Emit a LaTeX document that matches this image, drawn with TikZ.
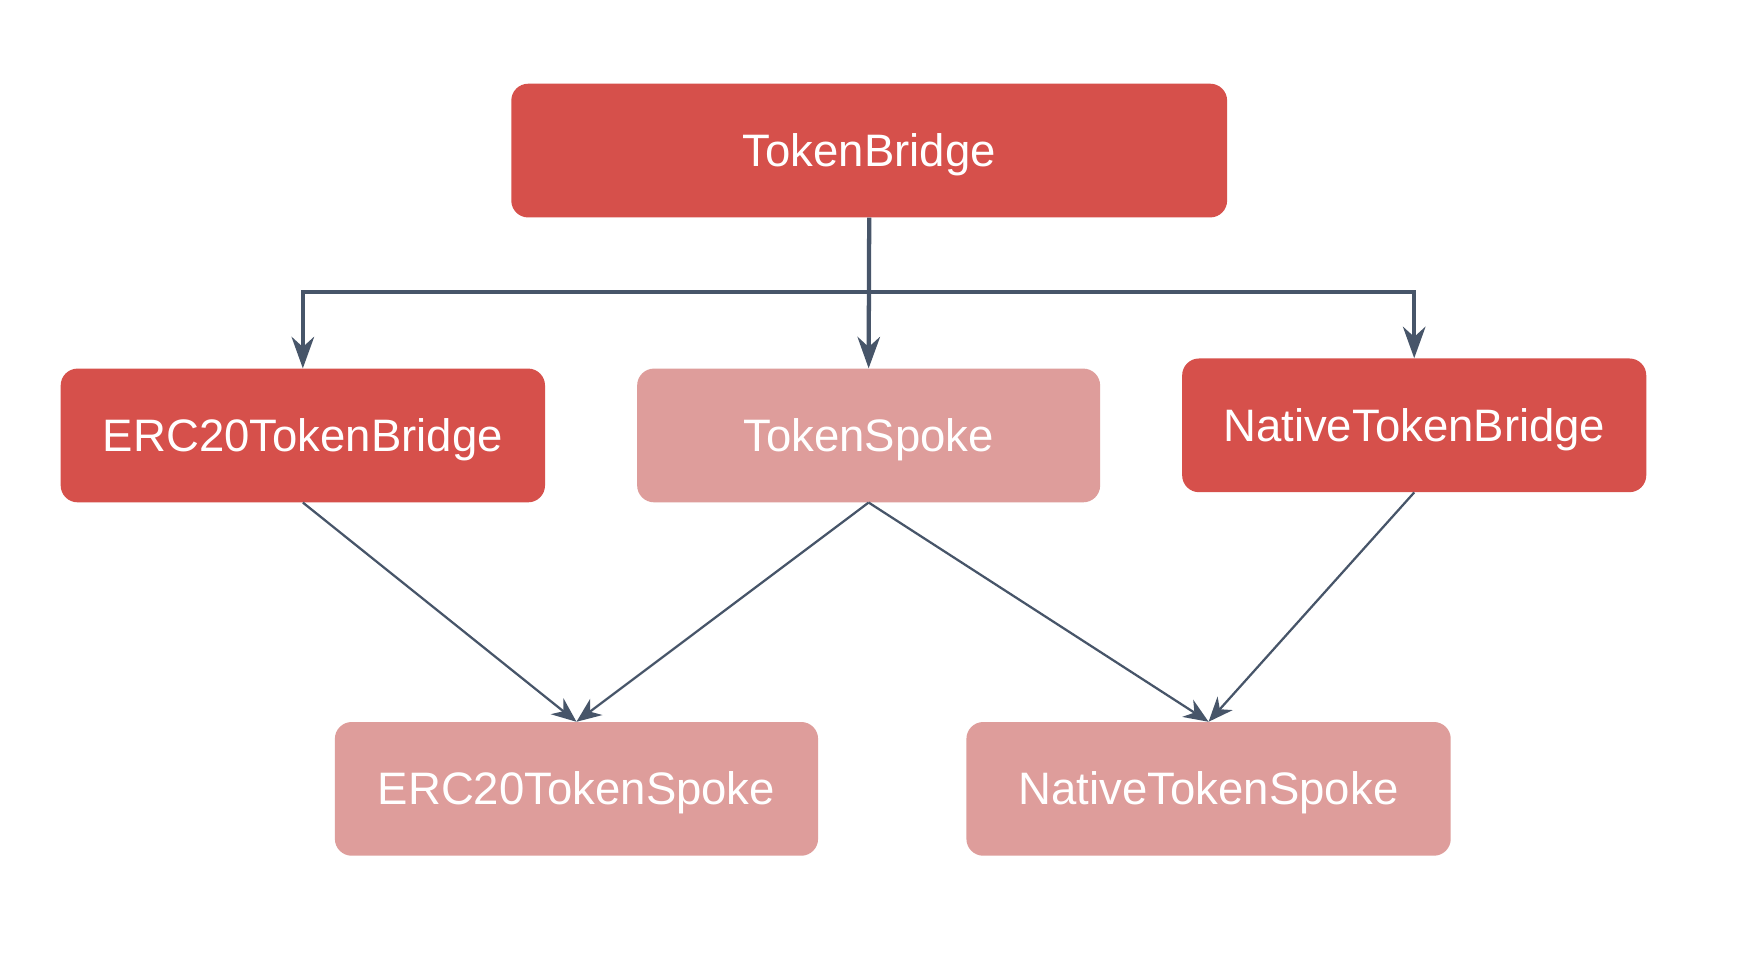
\documentclass[tikz,border=0pt]{standalone}
\usepackage{fontspec}
\setmainfont{Liberation Sans}
\usetikzlibrary{arrows.meta}
\definecolor{darkred}{HTML}{D6504B}
\definecolor{lightred}{HTML}{DE9D9B}
\definecolor{linecol}{HTML}{475569}
\tikzset{
  box/.style={rounded corners=15pt, minimum height=119pt, text=white, font=\fontsize{40.5pt}{44pt}\selectfont, inner sep=0pt, text height=28pt, text depth=0pt},
  darkbox/.style={box, fill=darkred},
  lightbox/.style={box, fill=lightred},
  thickarrow/.style={draw=linecol, line width=3.8pt, -{Stealth[length=28pt, width=20pt, inset=9pt]}},
  thinarrow/.style={draw=linecol, line width=2pt, -{Stealth[length=22pt, width=18pt, inset=7pt]}},
}
\begin{document}
\begin{tikzpicture}[x=1pt, y=-1pt]
\useasboundingbox[fill=white] (0,0) rectangle (1568,849);
\node[darkbox, minimum width=637pt] (tb) at (773.5,134) {TokenBridge};
\node[darkbox, minimum width=431pt] (ercb) at (269.5,387.5) {ERC20TokenBridge};
\node[lightbox, minimum width=412pt] (ts) at (773,387.5) {TokenSpoke};
\node[darkbox, minimum width=413pt] (ntb) at (1258.5,378.5) {NativeTokenBridge};
\node[lightbox, minimum width=430pt] (ercs) at (513,702) {ERC20TokenSpoke};
\node[lightbox, minimum width=431pt] (nts) at (1075.5,702) {NativeTokenSpoke};
\coordinate (split) at (773.5,260);
\draw[thickarrow] (tb.south) -- (split) -| (ercb.north);
\draw[thickarrow] (tb.south) -- (ts.north);
\draw[thickarrow] (split) -| (ntb.north);
\draw[thinarrow] (ercb.south) -- (ercs.north);
\draw[thinarrow] (ts.south) -- (ercs.north);
\draw[thinarrow] (ts.south) -- (nts.north);
\draw[thinarrow] (ntb.south) -- (nts.north);
\end{tikzpicture}
\end{document}
